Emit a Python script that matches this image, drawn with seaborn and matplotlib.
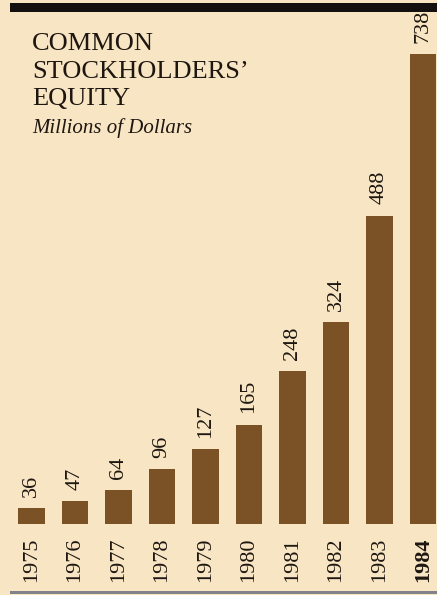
import matplotlib
matplotlib.use("Agg")
import matplotlib.pyplot as plt
import seaborn as sns
import pandas as pd
from matplotlib.patches import Rectangle

# data
years = ["1975", "1976", "1977", "1978", "1979", "1980", "1981", "1982", "1983", "1984"]
equity = [36, 47, 64, 96, 127, 165, 248, 324, 488, 738]
title_lines = ["COMMON", "STOCKHOLDERS\u2019", "EQUITY"]
subtitle = "Millions of Dollars"

bg = "#F7E5C4"
bar_col = "#7A5226"
ink = "#1E1610"
W, H = 437, 595

sns.set_theme(style="white")
plt.rcParams["font.family"] = ["Liberation Serif", "DejaVu Serif"]

df = pd.DataFrame({"year": years, "equity": equity})

fig = plt.figure(figsize=(W / 100, H / 100), dpi=100, facecolor=bg)
ax = fig.add_axes([0, (H - 524) / H, 1, 524 / H])
ax.set_facecolor(bg)

sns.barplot(data=df, x="year", y="equity", order=years, color=bar_col,
            saturation=1, width=0.62, linewidth=0, edgecolor=bar_col, ax=ax)

ax.set_xlim(-0.724, 9.322)
ax.set_ylim(11.3, 821)
ax.set_xlabel("")
ax.set_ylabel("")
ax.set_yticks([])
for s in ax.spines.values():
    s.set_visible(False)

ax.tick_params(axis="x", length=0, pad=10)
ax.set_xticks(range(len(years)))
ax.set_xticklabels(years, rotation=90, fontsize=16, color=ink, va="top")
ax.get_xticklabels()[-1].set_fontweight("bold")

ax.bar_label(ax.containers[0], labels=[str(v) for v in equity], rotation=90,
             padding=8, fontsize=16, color=ink)

# title block
x0 = 32 / W
for i, line in enumerate(title_lines):
    fig.text(x0, 1 - (50 + 27.5 * i) / H, line, fontsize=19, color=ink,
             va="baseline", ha="left")
fig.text(x0, 1 - 133 / H, subtitle, fontsize=15, style="italic", color=ink,
         va="baseline", ha="left")

# top black band and bottom rule
fig.add_artist(Rectangle((10 / W, 1 - 12 / H), 1, 9 / H, transform=fig.transFigure,
                         facecolor="#141010", edgecolor="none"))
fig.add_artist(Rectangle((10 / W, 1 - 594 / H), 1, 3 / H, transform=fig.transFigure,
                         facecolor="#80838A", edgecolor="none"))

fig.savefig("out.png", dpi=100, facecolor=bg)
